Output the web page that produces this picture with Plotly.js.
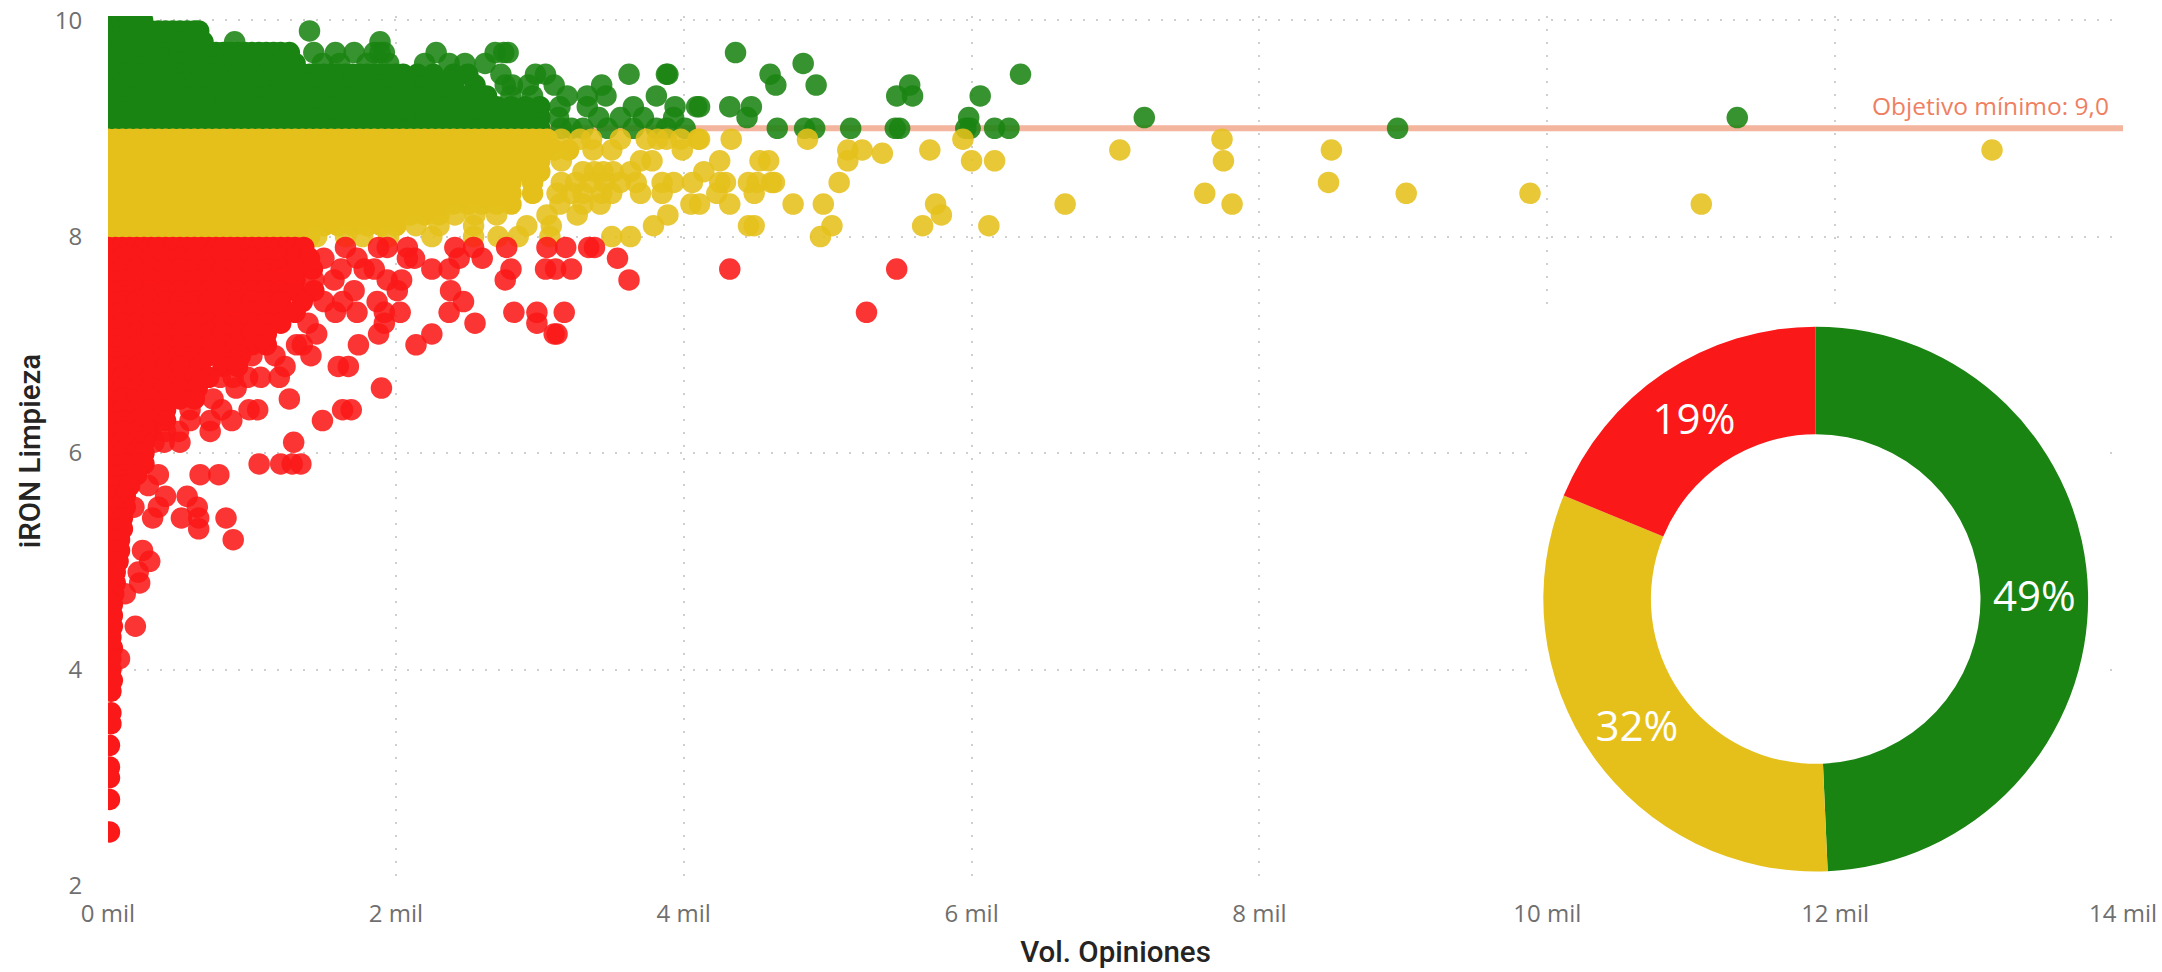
<!DOCTYPE html>
<html><head><meta charset="utf-8">
<script src="https://cdn.plot.ly/plotly-3.0.1.min.js"></script>
<style>html,body{margin:0;padding:0;background:#fff}</style></head>
<body><div id="c" style="width:2162px;height:972px"></div>
<script>
const xTickVals=[0,2,4,6,8,10,12,14];
const xTickText=["0 mil","2 mil","4 mil","6 mil","8 mil","10 mil","12 mil","14 mil"];
const yTickVals=[2,4,6,8,10];
const targetValue=9;
const targetLabel="Objetivo mínimo: 9,0";
const donutLabels=["Verde","Amarillo","Rojo"];
const donutValues=[49.3,31.9,18.8];

const greenY=[10,9.9,9.8,9.7,9.6,9.5,9.4,9.3,9.2,9.1,9];
const greenSolidTo=[.24,.63,.66,1.26,1.3,2.5,2.55,2.63,3,3,3];
const greenX=[
[0,.05,.1,.15,.2,.24],
[0,.05,.1,.15,.2,.25,.3,.35,.4,.45,.5,.55,.6,.63,1.4],
[0,.1,.2,.3,.4,.5,.6,.66,.88,1.89],
[0,.05,.1,.15,.2,.25,.3,.35,.4,.45,.5,.55,.6,.65,.7,.75,.8,.85,.9,.95,1,1.05,1.1,1.15,1.2,1.26,1.43,1.58,1.71,1.85,1.89,1.92,2.28,2.69,2.75,2.78,4.36],
[0,.1,.2,.3,.4,.5,.6,.7,.8,.9,1,1.1,1.2,1.3,1.49,1.61,1.8,1.95,2.2,2.37,2.48,2.62,4.83],
[0,.05,.1,.15,.2,.25,.3,.35,.4,.45,.5,.55,.6,.65,.7,.75,.8,.85,.9,.95,1,1.05,1.1,1.15,1.2,1.25,1.3,1.35,1.4,1.45,1.5,1.55,1.6,1.65,1.7,1.75,1.8,1.85,1.9,1.94,2,2.05,2.15,2.26,2.4,2.5,2.73,2.97,3.04,3.62,3.88,3.89,4.6,6.34],
[0,.1,.2,.3,.4,.5,.6,.7,.8,.9,1,1.1,1.2,1.3,1.4,1.5,1.6,1.7,1.8,1.9,2,2.1,2.2,2.3,2.4,2.55,2.76,2.81,2.92,3.1,3.43,4.64,4.92,5.57],
[0,.1,.2,.3,.4,.5,.6,.7,.8,.9,1,1.1,1.2,1.3,1.4,1.5,1.6,1.7,1.8,1.9,2,2.1,2.2,2.3,2.4,2.5,2.63,2.8,2.95,3.19,3.33,3.46,3.81,5.48,5.59,6.06],
[0,.1,.2,.3,.4,.5,.6,.7,.8,.9,1,1.1,1.2,1.3,1.4,1.5,1.6,1.7,1.8,1.9,2,2.1,2.2,2.3,2.4,2.5,2.6,2.7,2.8,2.9,3,3.14,3.33,3.65,3.94,4.09,4.11,4.32,4.47],
[0,.1,.2,.3,.4,.5,.6,.7,.8,.9,1,1.1,1.2,1.3,1.4,1.5,1.6,1.7,1.8,1.9,2,2.1,2.2,2.3,2.4,2.5,2.6,2.7,2.8,2.9,3,3.13,3.41,3.56,3.72,3.93,4.44,5.98,7.2,11.32],
[0,.1,.2,.3,.4,.5,.6,.7,.8,.9,1,1.1,1.2,1.3,1.4,1.5,1.6,1.7,1.8,1.9,2,2.1,2.2,2.3,2.4,2.5,2.6,2.7,2.8,2.9,3,3.15,3.22,3.3,3.47,3.65,3.81,3.88,4.01,4.65,4.84,4.91,5.16,5.47,5.5,5.96,5.99,6.16,6.26,8.96]
];
const yellowY=[8.9,8.8,8.77,8.7,8.6,8.5,8.4,8.3,8.2,8.1,8];
const yellowSolidTo=[3.05,3.2,0,3,3,2.95,2.95,2.8,2.3,2,1.4];
const yellowX=[
[0,.05,.1,.15,.2,.25,.3,.35,.4,.45,.5,.55,.6,.65,.7,.75,.8,.85,.9,.95,1,1.05,1.1,1.15,1.2,1.25,1.3,1.35,1.4,1.45,1.5,1.55,1.6,1.65,1.7,1.75,1.8,1.85,1.9,1.95,2,2.05,2.1,2.15,2.2,2.25,2.3,2.35,2.4,2.45,2.5,2.55,2.6,2.65,2.7,2.75,2.8,2.85,2.9,2.95,3,3.05,3.15,3.28,3.36,3.56,3.74,3.82,3.88,3.98,4.1,4.11,4.33,4.86,5.94,7.74],
[0,.1,.2,.3,.4,.5,.6,.7,.8,.9,1,1.1,1.2,1.3,1.4,1.5,1.6,1.7,1.8,1.9,2,2.1,2.2,2.3,2.4,2.5,2.6,2.7,2.8,2.9,3,3.1,3.2,3.37,3.5,3.99,5.14,5.24,5.71,7.03,8.5,13.09],
[5.38],
[0,.1,.2,.3,.4,.5,.6,.7,.8,.9,1,1.1,1.2,1.3,1.4,1.5,1.6,1.7,1.8,1.9,2,2.1,2.2,2.3,2.4,2.5,2.6,2.7,2.8,2.9,3,3.15,3.7,3.78,4.25,4.53,4.59,5.14,6,6.16,7.75],
[0,.1,.2,.3,.4,.5,.6,.7,.8,.9,1,1.1,1.2,1.3,1.4,1.5,1.6,1.7,1.8,1.9,2,2.1,2.2,2.3,2.4,2.5,2.6,2.7,2.8,2.9,3,3.3,3.38,3.44,3.51,3.63,4.14],
[0,.1,.2,.3,.4,.5,.6,.7,.8,.9,1,1.1,1.2,1.3,1.4,1.5,1.6,1.7,1.8,1.9,2,2.1,2.2,2.3,2.4,2.5,2.6,2.7,2.8,2.95,3.15,3.25,3.35,3.45,3.56,3.67,3.85,3.93,4.06,4.25,4.29,4.45,4.51,4.61,4.63,5.08,8.48],
[0,.1,.2,.3,.4,.5,.6,.7,.8,.9,1,1.1,1.2,1.3,1.4,1.5,1.6,1.7,1.8,1.9,2,2.1,2.2,2.3,2.4,2.5,2.6,2.7,2.8,2.95,3.12,3.22,3.3,3.43,3.5,3.7,3.85,4.23,4.49,7.62,9.02,9.88],
[0,.1,.2,.3,.4,.5,.6,.7,.8,.9,1,1.1,1.2,1.3,1.4,1.5,1.6,1.7,1.8,1.9,2,2.1,2.2,2.3,2.4,2.5,2.6,2.7,2.8,3.14,3.3,3.42,4.05,4.11,4.32,4.76,4.97,5.75,6.65,7.81,11.07],
[0,.1,.2,.3,.4,.5,.6,.7,.8,.9,1,1.1,1.2,1.3,1.4,1.5,1.6,1.7,1.8,1.9,2,2.1,2.2,2.3,2.41,2.55,2.7,3.05,3.26,3.89,5.79],
[0,.1,.2,.3,.4,.5,.6,.7,.8,.9,1,1.1,1.2,1.3,1.4,1.5,1.6,1.7,1.8,1.9,2,2.14,2.3,2.54,2.91,3.08,3.79,4.45,4.49,5.03,5.66,6.12],
[0,.1,.2,.3,.4,.5,.6,.7,.8,.9,1,1.1,1.2,1.3,1.4,1.45,1.65,1.77,1.95,2.25,2.54,2.71,2.85,3.07,3.5,3.63,4.95]
];
const redY=[7.9,7.8,7.7,7.6,7.5,7.4,7.3,7.2,7.1,7,6.9,6.8,6.7,6.6,6.5,6.4,6.3,6.2,6.1,6,5.9,5.8,5.7,5.6,5.5,5.4,5.3,5.2,5.1,5,4.9,4.8,4.7,4.6,4.5,4.4,4.3,4.2,4.1,4,3.9,3.8,3.6,3.5,3.3,3.1,3,2.8,2.5];
const redSolidTo=[1.36,1.4,1.42,1.42,1.43,1.35,1.3,1.2,1.1,1.1,.92,.9,.7,.62,.6,.4,.4,.3,.25,.25,.25,.2,.15,.12,.12,.1,.1,.08,.08,.07,.05,.05,.04,.03,.03,.03,.02,.03,.02,.02,.03,.02,.02,.02,.01,.01,.01,.01,.01];
const redX=[
[0,.05,.1,.15,.2,.25,.3,.35,.4,.45,.5,.55,.6,.65,.7,.75,.8,.85,.9,.95,1,1.05,1.1,1.15,1.2,1.25,1.3,1.36,1.65,1.88,1.94,2.08,2.41,2.54,2.77,3.05,3.18,3.34,3.38],
[0,.1,.2,.3,.4,.5,.6,.7,.8,.9,1,1.1,1.2,1.3,1.4,1.5,1.73,2.08,2.13,2.44,2.6,3.54],
[0,.1,.2,.3,.4,.5,.6,.7,.8,.9,1,1.1,1.2,1.3,1.42,1.62,1.78,1.85,2.25,2.37,2.8,3.04,3.11,3.22,4.32,5.48],
[0,.1,.2,.3,.4,.5,.6,.7,.8,.9,1,1.1,1.2,1.3,1.43,1.57,1.94,2.04,2.76,3.62],
[0,.1,.2,.3,.4,.5,.6,.7,.8,.9,1,1.1,1.2,1.3,1.43,1.71,2.01,2.38],
[0,.1,.2,.3,.4,.5,.6,.7,.8,.9,1,1.1,1.2,1.35,1.5,1.63,1.87,2.47],
[0,.1,.2,.3,.4,.5,.6,.7,.8,.9,1,1.1,1.2,1.3,1.58,1.73,1.92,2.03,2.37,2.82,2.98,3.17,5.27],
[0,.1,.2,.3,.4,.5,.6,.7,.8,.9,1,1.1,1.2,1.39,1.92,2.55,2.98],
[0,.1,.2,.3,.4,.5,.6,.7,.8,.9,1,1.1,1.45,1.88,2.25,3.1,3.12],
[0,.1,.2,.3,.4,.5,.6,.7,.8,.9,1,1.1,1.31,1.35,1.74,2.14],
[0,.1,.2,.3,.4,.5,.6,.7,.8,.92,1,1.16,1.41],
[0,.1,.2,.3,.4,.5,.64,.8,.9,1.23,1.6,1.67],
[0,.1,.2,.3,.4,.5,.6,.7,.78,.87,.97,1.06,1.19],
[0,.1,.2,.3,.4,.5,.62,.89,1.9],
[0,.1,.2,.3,.4,.5,.6,.73,1.26],
[0,.1,.2,.3,.4,.57,.79,.98,1.04,1.63,1.69],
[0,.1,.2,.3,.4,.57,.71,.86,1.49],
[0,.1,.2,.3,.4,.49,.71],
[0,.1,.2,.25,.32,.39,.5,1.29],
[0,.1,.2,.25],
[0,.1,.2,.25,1.05,1.2,1.28,1.34],
[0,.1,.2,.35,.64,.77],
[0,.1,.15,.28],
[0,.06,.12,.4,.55],
[0,.06,.12,.18,.35,.62],
[0,.05,.1,.31,.51,.63,.82],
[0,.05,.1,.63],
[0,.04,.08,.87],
[0,.04,.08,.24],
[0,.04,.07,.29],
[0,.05,.21],
[0,.05,.22],
[0,.04,.12],
[0,.03],
[0,.03],
[0,.03,.19],
[0,.02],
[0,.03],
[0,.02,.08],
[0,.02],
[.03],
[.02],
[.02],
[.02],
[.01],
[.01],
[.01],
[.01],
[.01]
];
const rowsY=(rows,ys)=>rows.flatMap((r,i)=>r.map(()=>ys[i]));
const rowsOpacity=(rows,edges)=>rows.flatMap((r,i)=>r.map(v=>v<=edges[i]?1:.88));
const dots=(rows,ys,edges,color)=>({type:"scatter",mode:"markers",x:rows.flat(),y:rowsY(rows,ys),hoverinfo:"skip",
  marker:{color:color,size:21.5,opacity:rowsOpacity(rows,edges),line:{width:0}}});
const labelFont="'Open Sans',sans-serif";
const data=[dots(greenX,greenY,greenSolidTo,"#1a8412"),dots(yellowX,yellowY,yellowSolidTo,"#e5c01b"),dots(redX,redY,redSolidTo,"#fb1818"),
 {type:"pie",values:donutValues,labels:donutLabels,sort:false,direction:"clockwise",rotation:0,hole:.605,
  domain:{x:[.7123,.9827],y:[.0167,.6429]},marker:{colors:["#1a8412","#e5c01b","#fb1818"],line:{width:0}},
  texttemplate:"%{percent:.0%}",textposition:"inside",insidetextorientation:"horizontal",
  textfont:{family:labelFont,size:42,color:"#fff"},showlegend:false,hoverinfo:"skip"}];
const gridStyle={showgrid:true,gridcolor:"#cfcfcf",gridwidth:2,griddash:"2px,11px",zeroline:false,showline:false,
  ticks:"outside",tickcolor:"rgba(0,0,0,0)",tickfont:{family:labelFont,size:24,color:"#6f6f6f"}};
const layout={width:2162,height:972,showlegend:false,paper_bgcolor:"#fff",plot_bgcolor:"#fff",
 margin:{l:107.5,r:39,t:15.7,b:86,pad:0},
 xaxis:{...gridStyle,range:[0,14],tickmode:"array",tickvals:xTickVals,ticktext:xTickText,ticklen:6,
   title:{text:"Vol. Opiniones",standoff:13,font:{family:"Roboto,sans-serif",size:29.5,color:"#252423",weight:500}}},
 yaxis:{...gridStyle,range:[2,10.038],tickmode:"array",tickvals:yTickVals,ticktext:yTickVals.map(String),ticklen:20,
   title:{text:"iRON Limpieza",standoff:5,font:{family:"Roboto,sans-serif",size:29.5,color:"#252423",weight:500}}},
 shapes:[
  {type:"rect",layer:"between",xref:"x",yref:"y",x0:9.86,x1:13.865,y0:2,y1:7.32,fillcolor:"#fff",line:{width:0}},
  {type:"line",layer:"between",xref:"x",yref:"y",x0:0,x1:14,y0:targetValue,y1:targetValue,line:{color:"#f4b59e",width:6}}],
 annotations:[{xref:"x",yref:"y",x:13.92,y:targetValue,xanchor:"right",yanchor:"bottom",yshift:4,showarrow:false,text:targetLabel,
   font:{family:labelFont,size:24.5,color:"#ef7f62"}}]
};
Plotly.newPlot("c",data,layout,{displayModeBar:false,staticPlot:true});
</script></body></html>
